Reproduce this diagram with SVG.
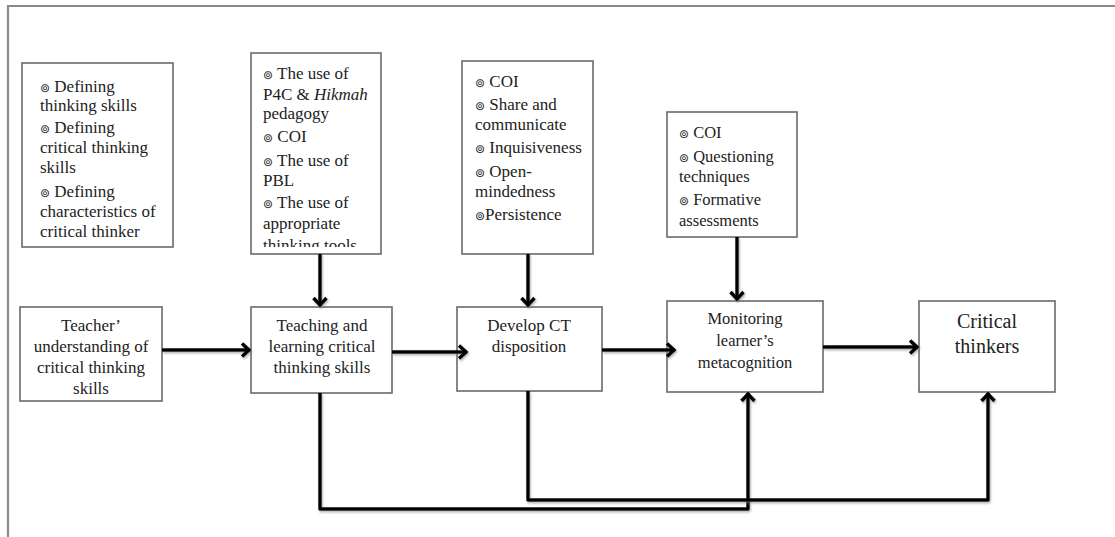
<svg xmlns="http://www.w3.org/2000/svg" width="1115" height="537" viewBox="0 0 1115 537">
  <style>
    .box { fill: #ffffff; stroke: #6a6a6a; stroke-width: 1.6; }
    .t { font-family: "Liberation Serif", "Times New Roman", serif; font-size: 17px; fill: #222; }
    .s { font-size: 16.5px; }
    .big { font-size: 20px; }
    .c { text-anchor: middle; }
    .b { font-family: "DejaVu Sans", sans-serif; font-size: 12px; }
    .conn { fill: none; stroke: #000; stroke-width: 3.5; stroke-linejoin: round; filter: url(#sh); }
    .frame { stroke: #8a8a8a; stroke-width: 2.2; fill: none; }
  </style>
  <defs>
    <filter id="sh" filterUnits="userSpaceOnUse" x="0" y="0" width="1115" height="537">
      <feDropShadow dx="1" dy="1.5" stdDeviation="1" flood-color="#777" flood-opacity="0.6"/>
    </filter>
    <marker id="arr" markerUnits="userSpaceOnUse" markerWidth="16" markerHeight="16" viewBox="0 0 16 16" refX="13" refY="8" orient="auto">
      <path d="M5,1.5 L12,8 L5,14.5" fill="none" stroke="#000" stroke-width="3.5" stroke-linejoin="miter"/>
    </marker>
    <clipPath id="clip2">
      <rect x="251" y="53" width="130" height="194"/>
    </clipPath>
  </defs>

  <g id="frame">
    <path class="frame" d="M8,537 L8,6 L1115,6"/>
  </g>

  <g id="n-defining">
    <rect class="box" x="22" y="63" width="151" height="184"/>
    <text class="t" x="40" y="91.5"><tspan class="b">⊚</tspan> Defining</text>
    <text class="t" x="40" y="110.5">thinking skills</text>
    <text class="t" x="40" y="132.5"><tspan class="b">⊚</tspan> Defining</text>
    <text class="t" x="40" y="152.5">critical thinking</text>
    <text class="t" x="40" y="173">skills</text>
    <text class="t" x="40" y="196.5"><tspan class="b">⊚</tspan> Defining</text>
    <text class="t" x="40" y="216.5">characteristics of</text>
    <text class="t" x="40" y="237">critical thinker</text>
  </g>

  <g id="n-pedagogy">
    <rect class="box" x="251" y="53" width="130" height="201"/>
    <g clip-path="url(#clip2)">
      <text class="t" x="263" y="79"><tspan class="b">⊚</tspan> The use of</text>
      <text class="t" x="263" y="100">P4C &amp; <tspan font-style="italic">Hikmah</tspan></text>
      <text class="t" x="263" y="119">pedagogy</text>
      <text class="t" x="263" y="141.5"><tspan class="b">⊚</tspan> COI</text>
      <text class="t" x="263" y="165.5"><tspan class="b">⊚</tspan> The use of</text>
      <text class="t" x="263" y="185.5">PBL</text>
      <text class="t" x="263" y="208"><tspan class="b">⊚</tspan> The use of</text>
      <text class="t" x="263" y="229">appropriate</text>
      <text class="t" x="263" y="251">thinking tools</text>
    </g>
  </g>

  <g id="n-disposition-items">
    <rect class="box" x="462" y="61" width="131" height="193"/>
    <text class="t" x="475" y="86.5"><tspan class="b">⊚</tspan> COI</text>
    <text class="t" x="475" y="110"><tspan class="b">⊚</tspan> Share and</text>
    <text class="t" x="475" y="130">communicate</text>
    <text class="t" x="475" y="153"><tspan class="b">⊚</tspan> Inquisiveness</text>
    <text class="t" x="475" y="176.5"><tspan class="b">⊚</tspan> Open-</text>
    <text class="t" x="475" y="196.5">mindedness</text>
    <text class="t" x="475" y="220"><tspan class="b">⊚</tspan>Persistence</text>
  </g>

  <g id="n-monitoring-items">
    <rect class="box" x="667" y="112" width="130" height="125"/>
    <text class="t s" x="679" y="137.5"><tspan class="b">⊚</tspan> COI</text>
    <text class="t s" x="679" y="162"><tspan class="b">⊚</tspan> Questioning</text>
    <text class="t s" x="679" y="181.5">techniques</text>
    <text class="t s" x="679" y="205"><tspan class="b">⊚</tspan> Formative</text>
    <text class="t s" x="679" y="225.5">assessments</text>
  </g>

  <g id="n-teacher">
    <rect class="box" x="20" y="307" width="142" height="94"/>
    <text class="t c" x="91" y="331">Teacher’</text>
    <text class="t c" x="91" y="352">understanding of</text>
    <text class="t c" x="91" y="373">critical thinking</text>
    <text class="t c" x="91" y="394">skills</text>
  </g>

  <g id="n-teaching">
    <rect class="box" x="251" y="307" width="141" height="86"/>
    <text class="t c" x="322" y="331">Teaching and</text>
    <text class="t c" x="322" y="352">learning critical</text>
    <text class="t c" x="322" y="373">thinking skills</text>
  </g>

  <g id="n-develop">
    <rect class="box" x="457" y="307" width="145" height="84"/>
    <text class="t c" x="529" y="331">Develop CT</text>
    <text class="t c" x="529" y="352">disposition</text>
  </g>

  <g id="n-monitoring">
    <rect class="box" x="667" y="301" width="156" height="91"/>
    <text class="t s c" x="745" y="324">Monitoring</text>
    <text class="t s c" x="745" y="346">learner’s</text>
    <text class="t s c" x="745" y="368">metacognition</text>
  </g>

  <g id="n-critical">
    <rect class="box" x="919" y="301" width="136" height="91"/>
    <text class="t big c" x="987" y="328">Critical</text>
    <text class="t big c" x="987" y="353">thinkers</text>
  </g>

  <g id="connectors">
    <path class="conn" d="M162,350 L250,350" marker-end="url(#arr)"/>
    <path class="conn" d="M392,352 L467,352" marker-end="url(#arr)"/>
    <path class="conn" d="M602,350 L675,350" marker-end="url(#arr)"/>
    <path class="conn" d="M823,347 L918,347" marker-end="url(#arr)"/>
    <path class="conn" d="M320,254 L320,306" marker-end="url(#arr)"/>
    <path class="conn" d="M528,254 L528,306" marker-end="url(#arr)"/>
    <path class="conn" d="M737,237 L737,300" marker-end="url(#arr)"/>
    <path class="conn" d="M320,393 L320,509 L748,509 L748,393" marker-end="url(#arr)"/>
    <path class="conn" d="M528,391 L528,500 L988,500 L988,393" marker-end="url(#arr)"/>
  </g>
</svg>
